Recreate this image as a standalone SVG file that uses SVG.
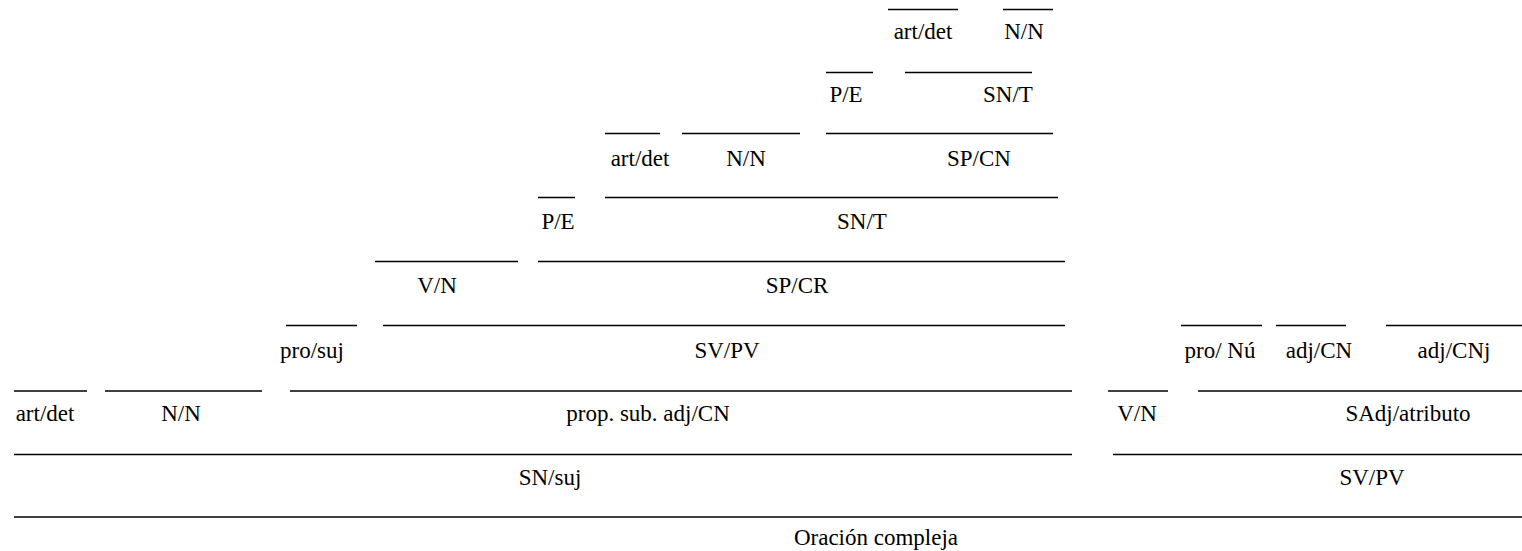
<svg xmlns="http://www.w3.org/2000/svg" width="1522" height="551" viewBox="0 0 1522 551">
<style>
.t{font-size:23px;fill:#000;text-anchor:middle}
line{stroke:#000;stroke-width:1.3}
</style>
<rect width="1522" height="551" fill="#fff"/>
<g font-family="Liberation Serif, Times New Roman, serif" class="t">
<!-- row 1 -->
<g id="n-artdet-1"><line x1="888" y1="9.5" x2="958" y2="9.5"/><text x="923" y="38.5">art/det</text></g>
<g id="n-nn-1"><line x1="1003" y1="9.5" x2="1053" y2="9.5"/><text x="1024" y="38.5">N/N</text></g>
<!-- row 2 -->
<g id="n-pe-1"><line x1="826" y1="72.5" x2="873" y2="72.5"/><text x="846" y="102">P/E</text></g>
<g id="n-snt-1"><line x1="905" y1="72.5" x2="1032" y2="72.5"/><text x="1008" y="102">SN/T</text></g>
<!-- row 3 -->
<g id="n-artdet-2"><line x1="605" y1="133.5" x2="660" y2="133.5"/><text x="640" y="165.5">art/det</text></g>
<g id="n-nn-2"><line x1="682" y1="133.5" x2="800" y2="133.5"/><text x="746" y="165.5">N/N</text></g>
<g id="n-spcn"><line x1="826" y1="133.5" x2="1053" y2="133.5"/><text x="979" y="165.5">SP/CN</text></g>
<!-- row 4 -->
<g id="n-pe-2"><line x1="538" y1="197.5" x2="575" y2="197.5"/><text x="558" y="228.5">P/E</text></g>
<g id="n-snt-2"><line x1="605" y1="197.5" x2="1058" y2="197.5"/><text x="862" y="228.5">SN/T</text></g>
<!-- row 5 -->
<g id="n-vn-1"><line x1="375" y1="261.5" x2="518" y2="261.5"/><text x="437" y="292.5">V/N</text></g>
<g id="n-spcr"><line x1="538" y1="261.5" x2="1065" y2="261.5"/><text x="797" y="292.5">SP/CR</text></g>
<!-- row 6 -->
<g id="n-prosuj"><line x1="286" y1="325.5" x2="357" y2="325.5"/><text x="312" y="357.5">pro/suj</text></g>
<g id="n-svpv-1"><line x1="383" y1="325.5" x2="1065" y2="325.5"/><text x="727" y="357.5">SV/PV</text></g>
<g id="n-pronu"><line x1="1181" y1="325.5" x2="1262" y2="325.5"/><text x="1220" y="357.5">pro/ Nú</text></g>
<g id="n-adjcn"><line x1="1276" y1="325.5" x2="1346" y2="325.5"/><text x="1319" y="357.5">adj/CN</text></g>
<g id="n-adjcnj"><line x1="1386" y1="325.5" x2="1522" y2="325.5"/><text x="1454" y="357.5">adj/CNj</text></g>
<!-- row 7 -->
<g id="n-artdet-3"><line x1="14" y1="391" x2="87" y2="391"/><text x="45" y="421">art/det</text></g>
<g id="n-nn-3"><line x1="105" y1="391" x2="262" y2="391"/><text x="181" y="421">N/N</text></g>
<g id="n-propsub"><line x1="290" y1="391" x2="1072" y2="391"/><text x="648" y="421">prop. sub. adj/CN</text></g>
<g id="n-vn-2"><line x1="1108" y1="391" x2="1168" y2="391"/><text x="1137" y="421">V/N</text></g>
<g id="n-sadj"><line x1="1198" y1="391" x2="1522" y2="391"/><text x="1408" y="421">SAdj/atributo</text></g>
<!-- row 8 -->
<g id="n-snsuj"><line x1="14" y1="454.5" x2="1072" y2="454.5"/><text x="550" y="485">SN/suj</text></g>
<g id="n-svpv-2"><line x1="1113" y1="454.5" x2="1522" y2="454.5"/><text x="1372" y="485">SV/PV</text></g>
<!-- row 9 -->
<g id="n-oracion"><line x1="14" y1="517" x2="1522" y2="517"/><text x="876" y="545">Oración compleja</text></g>
</g>
<g id="connectors"/>
</svg>
